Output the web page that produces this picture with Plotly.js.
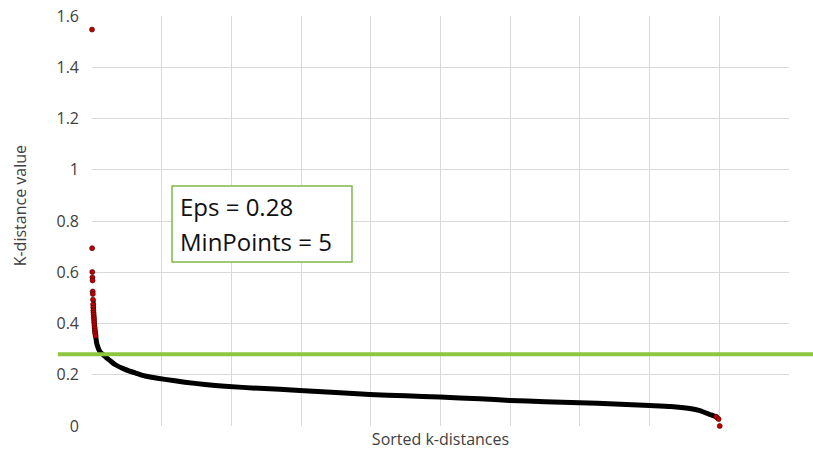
<!DOCTYPE html>
<html>
<head>
<meta charset="utf-8">
<script src="https://cdn.plot.ly/plotly-3.0.1.min.js"></script>
<style>html,body{margin:0;padding:0;background:#fff;}#chart{width:813px;height:450px;}</style>
</head>
<body>
<div id="chart"></div>
<script>
// Sparse, red points at the high end of the sorted k-distances (rank, value)
const headRank = [0, 1, 2, 3, 4, 5, 6, 7, 8, 9, 10, 11, 12, 13, 14, 15, 17, 19, 21, 23, 26];
const headK    = [1.547, 0.694, 0.601, 0.580, 0.568, 0.525, 0.515, 0.493, 0.474, 0.462, 0.451, 0.443, 0.434, 0.424, 0.416, 0.405, 0.394, 0.383, 0.372, 0.362, 0.352];

// Dense body of the sorted k-distance curve
const curveRank = [36, 57, 93, 130, 165, 237, 310, 380, 523, 667, 810, 954, 1200, 1491, 1750, 1993, 2250, 2495, 2782, 2997, 3250, 3499, 3750, 4001, 4150, 4288, 4360, 4431];
const curveK    = [0.318, 0.290, 0.272, 0.255, 0.240, 0.221, 0.207, 0.195, 0.182, 0.171, 0.162, 0.155, 0.147, 0.139, 0.131, 0.123, 0.118, 0.113, 0.106, 0.100, 0.095, 0.091, 0.086, 0.080, 0.076, 0.068, 0.060, 0.045];

// Low-end points
const tailRank = [4478, 4495, 4503];
const tailK    = [0.036, 0.027, 0.0];

// Chosen DBSCAN parameters
const epsValue = 0.28;
const minPoints = 5;

// Axis ticks
const yTickVals = [0, 0.2, 0.4, 0.6, 0.8, 1, 1.2, 1.4, 1.6];
const yTickText = ['0', '0.2', '0.4', '0.6', '0.8', '1', '1.2', '1.4', '1.6'];
const xRange = [0, 5000];

const FONT = '"Open Sans", "Liberation Sans", sans-serif';
const lineRank = headRank.slice(7).concat(curveRank, tailRank.slice(0, 2));
const lineK = headK.slice(7).concat(curveK, tailK.slice(0, 2));
const markRank = headRank.concat(tailRank);
const markK = headK.concat(tailK);

const traces = [
  {
    x: lineRank, y: lineK, type: 'scatter', mode: 'lines',
    line: {color: '#000000', width: 5, shape: 'spline', smoothing: 0.6},
    cliponaxis: false, hoverinfo: 'skip', showlegend: false
  },
  {
    x: markRank, y: markK, type: 'scatter', mode: 'markers',
    marker: {color: '#C00000', size: 5, line: {color: '#3a0000', width: 0.6}},
    cliponaxis: false, showlegend: false
  }
];

const layout = {
  width: 813, height: 450,
  margin: {l: 92, r: 24, t: 16, b: 24},
  paper_bgcolor: '#ffffff', plot_bgcolor: '#ffffff',
  font: {family: FONT, color: '#404040', size: 16},
  showlegend: false,
  xaxis: {
    range: xRange, dtick: 500, tick0: 0,
    showgrid: true, gridcolor: '#d9d9d9', gridwidth: 1,
    zeroline: false, showline: false, showticklabels: false, ticks: '',
    title: {text: 'Sorted k-distances', font: {family: FONT, size: 16, color: '#404040'}, standoff: 9}
  },
  yaxis: {
    range: [0, 1.6], tickvals: yTickVals, ticktext: yTickText,
    showgrid: true, gridcolor: '#d9d9d9', gridwidth: 1,
    zeroline: false, showline: false, ticks: '',
    ticklabelstandoff: 12,
    tickfont: {family: FONT, size: 16, color: '#404040'}
  },
  shapes: [
    {type: 'line', xref: 'paper', yref: 'y', x0: -0.0488, x1: 1.04, y0: epsValue, y1: epsValue,
     line: {color: '#8DC73F', width: 4}, layer: 'above'},
    {type: 'rect', xref: 'paper', yref: 'paper', x0: 0.1148, x1: 0.373, y0: 0.40, y1: 0.5854,
     line: {color: '#7DB84E', width: 1.5}, fillcolor: '#ffffff', layer: 'above'}
  ],
  annotations: [
    {xref: 'paper', yref: 'paper', x: 0.1235, y: 0.536, xanchor: 'left', yanchor: 'middle',
     text: 'Eps = ' + epsValue.toFixed(2), showarrow: false,
     font: {family: FONT, size: 24, color: '#111111'}},
    {xref: 'paper', yref: 'paper', x: 0.1235, y: 0.449, xanchor: 'left', yanchor: 'middle',
     text: 'MinPoints = ' + minPoints, showarrow: false,
     font: {family: FONT, size: 24, color: '#111111'}},
    {xref: 'paper', yref: 'paper', x: -0.104, y: 0.537, xanchor: 'center', yanchor: 'middle',
     text: 'K-distance value', textangle: -90, showarrow: false,
     font: {family: FONT, size: 16, color: '#404040'}}
  ]
};

Plotly.newPlot('chart', traces, layout, {displayModeBar: false, staticPlot: true});
</script>
</body>
</html>
